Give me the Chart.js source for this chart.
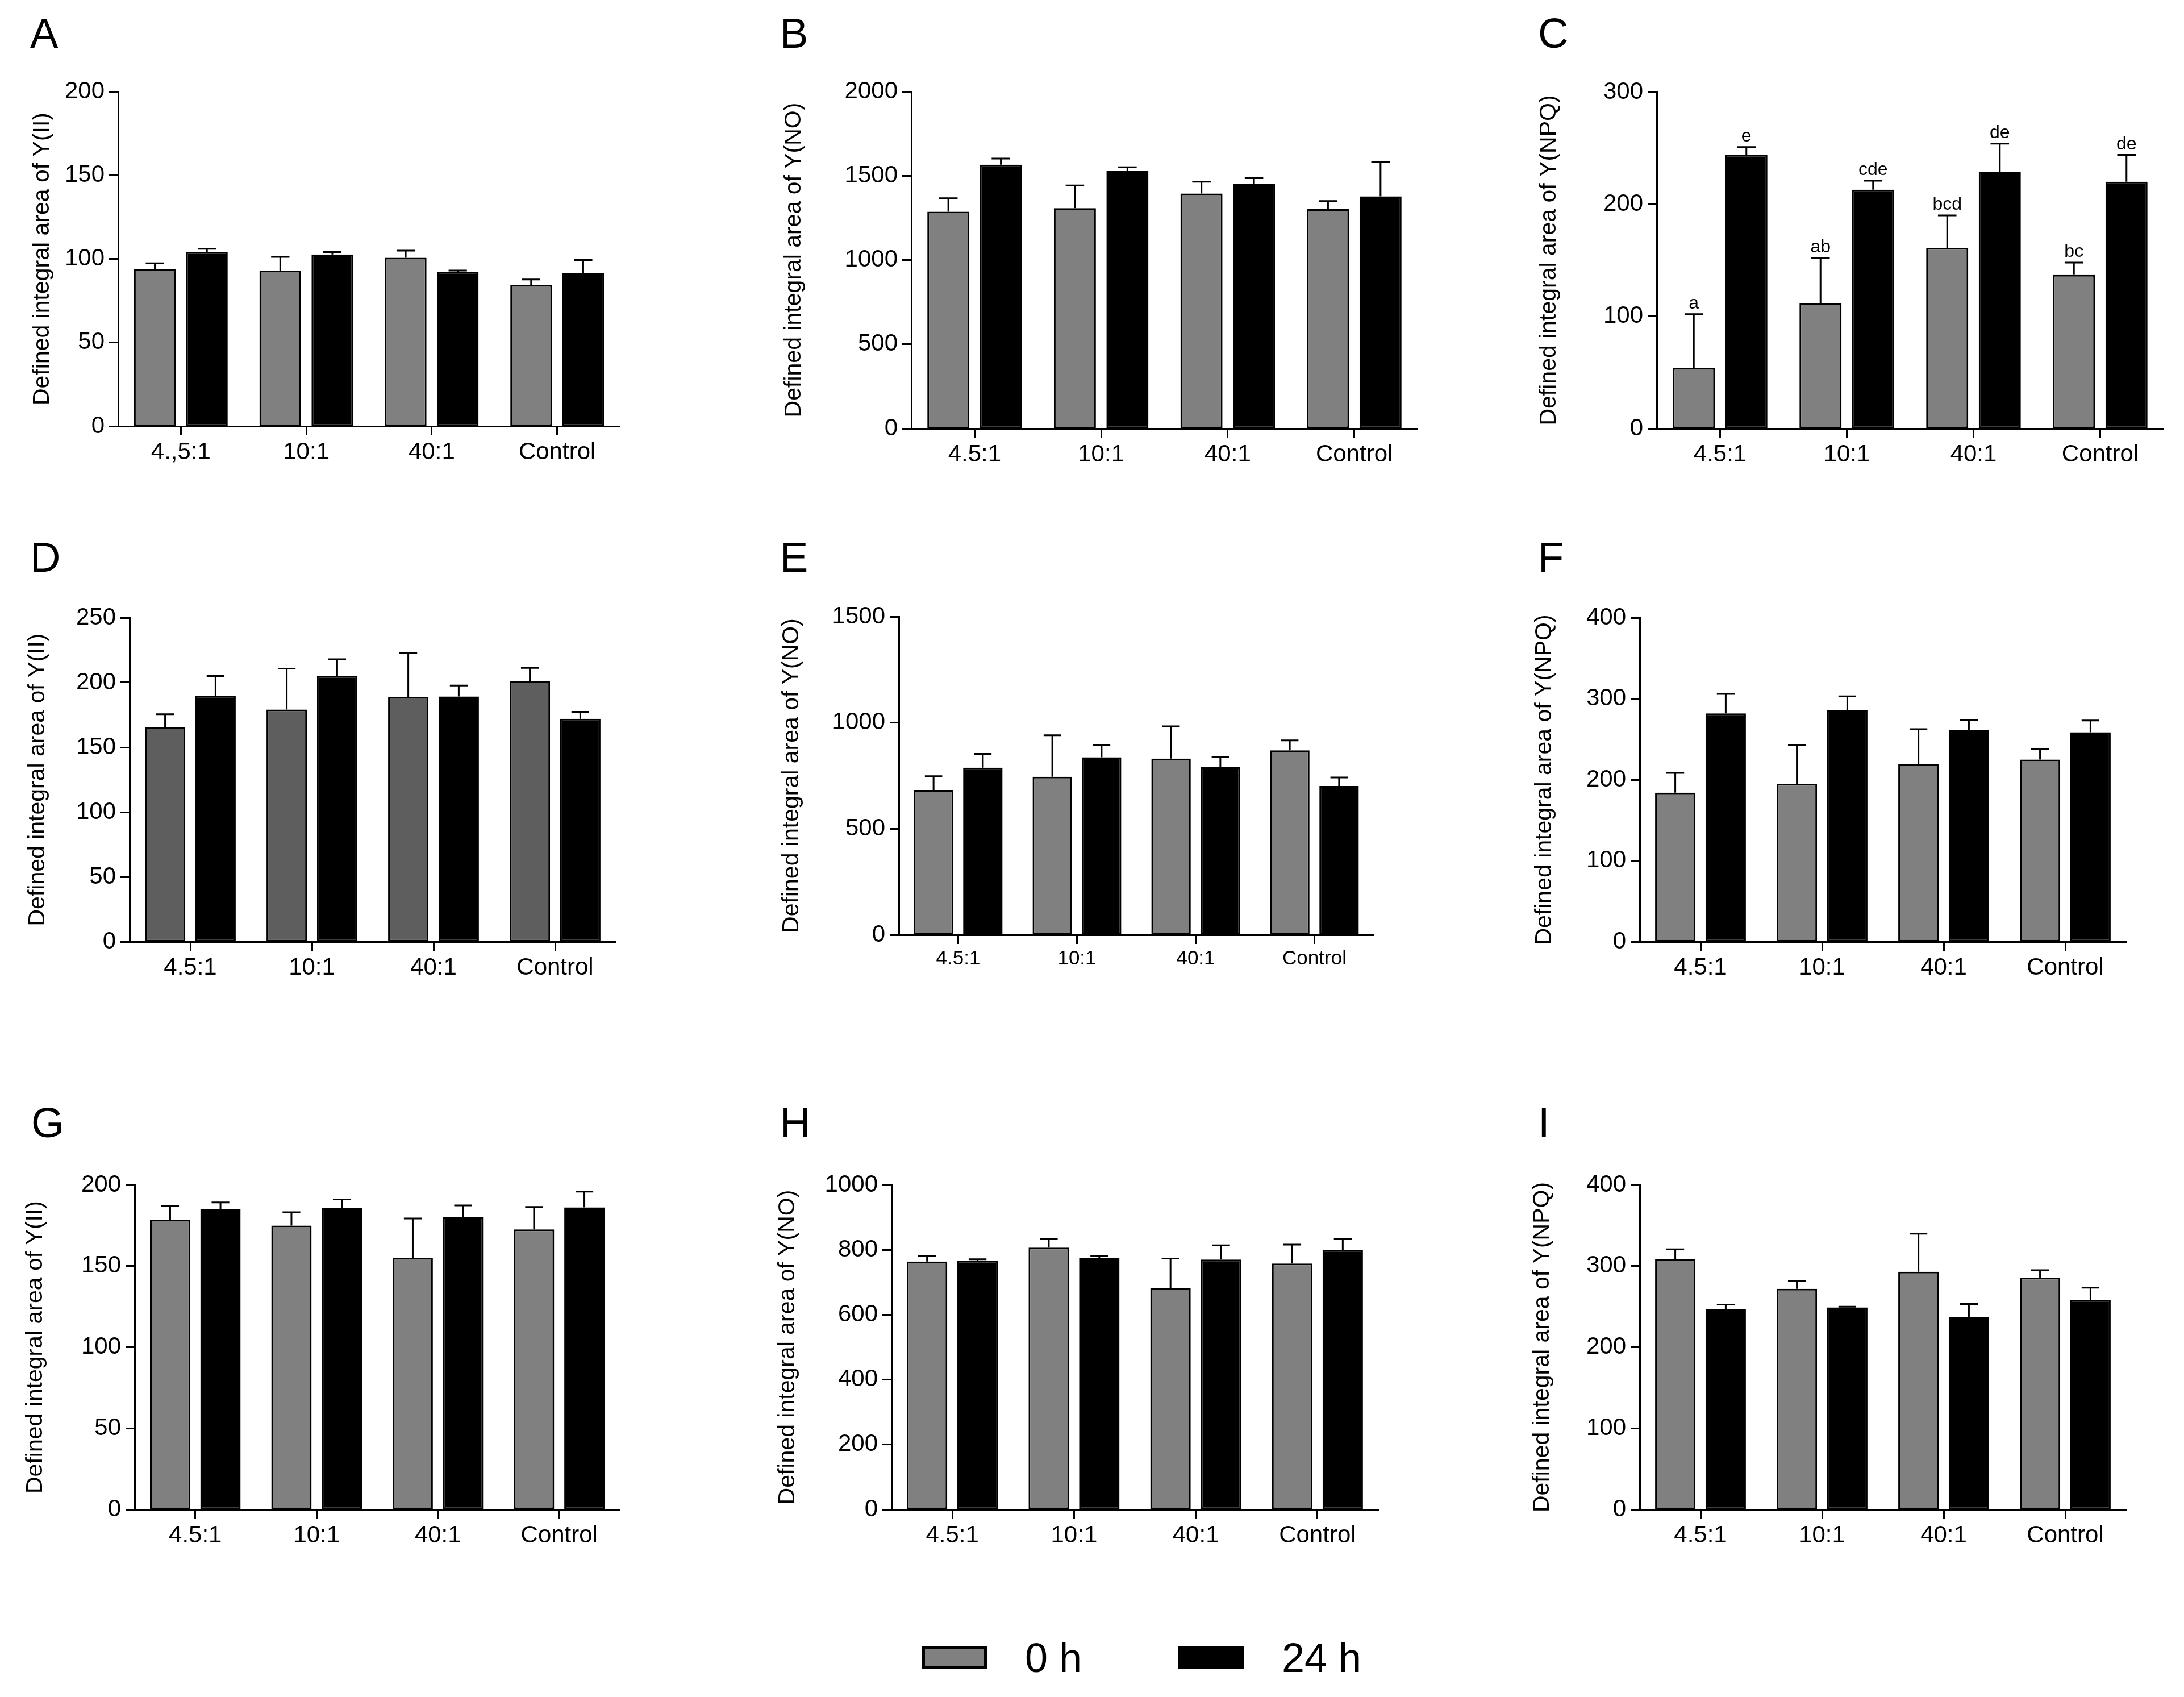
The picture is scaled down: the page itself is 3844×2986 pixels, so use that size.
<!DOCTYPE html>
<html>
<head>
<meta charset="utf-8">
<script src="https://cdn.jsdelivr.net/npm/chart.js@4.4.1/dist/chart.umd.min.js"></script>
<style>
  html, body { margin: 0; padding: 0; background: #fff; }
  #page { position: relative; width: 3844px; height: 2986px; overflow: hidden; font-family: "Liberation Sans", Arial, sans-serif; color: #000; }
  #page canvas { position: absolute; }
  .letter { position: absolute; font-size: 74px; line-height: 1; }
  .legbox { position: absolute; box-sizing: border-box; height: 39px; }
  .legtxt { position: absolute; font-size: 72px; line-height: 1; }
</style>
</head>
<body>
<div id="page">
  <div class="legbox" style="left:1623px; top:2897px; width:114px; background:#808080; border:5px solid #000;"></div>
  <div class="legtxt" style="left:1804px; top:2881px;">0 h</div>
  <div class="legbox" style="left:2074px; top:2897px; width:115px; background:#000;"></div>
  <div class="legtxt" style="left:2256px; top:2881px;">24 h</div>
</div>
<script>
// categories and series
const categoriesA = ['4.,5:1', '10:1', '40:1', 'Control'];
const categories = ['4.5:1', '10:1', '40:1', 'Control'];
const seriesNames = ['0 h', '24 h'];
const panelLetters = ['A', 'B', 'C', 'D', 'E', 'F', 'G', 'H', 'I'];
const yTitles = [
  'Defined integral area of Y(II)', 'Defined integral area of Y(NO)', 'Defined integral area of Y(NPQ)',
  'Defined integral area of Y(II)', 'Defined integral area of Y(NO)', 'Defined integral area of Y(NPQ)',
  'Defined integral area of Y(II)', 'Defined integral area of Y(NO)', 'Defined integral area of Y(NPQ)'
];
const yMaxes = [200, 2000, 300, 250, 1500, 400, 200, 1000, 400];
const ySteps = [50, 500, 100, 50, 500, 100, 50, 200, 100];

// A  Y(II)
const meanA0 = [94, 93, 100.7, 84.4];
const sdA0 = [3.4, 8.2, 4.2, 3.3];
const meanA24 = [104.1, 102.6, 92.3, 91.3];
const sdA24 = [1.9, 1.5, 0.7, 8];
// B  Y(NO)
const meanB0 = [1287, 1308, 1395, 1302];
const sdB0 = [80, 135, 70, 48];
const meanB24 = [1566, 1528, 1454, 1378];
const sdB24 = [36, 23, 32, 205];
// C  Y(NPQ)
const meanC0 = [54, 112, 161, 137];
const sdC0 = [48, 40, 29, 11];
const meanC24 = [244, 213, 229, 220];
const sdC24 = [7, 8, 25, 24];
const lettersC0 = ['a', 'ab', 'bcd', 'bc'];
const lettersC24 = ['e', 'cde', 'de', 'de'];
// D  Y(II)
const meanD0 = [165.6, 179.2, 189, 201];
const sdD0 = [10, 31.6, 34, 10.3];
const meanD24 = [189.8, 205, 189.3, 172];
const sdD24 = [15.2, 13, 8.4, 5.4];
// E  Y(NO)
const meanE0 = [683, 745, 831, 870];
const sdE0 = [65, 196, 152, 47];
const meanE24 = [788, 837, 790, 702];
const sdE24 = [65, 59, 48, 40];
// F  Y(NPQ)
const meanF0 = [184, 195, 219.5, 225];
const sdF0 = [24.5, 48, 43, 12.7];
const meanF24 = [282, 286, 261, 258.6];
const sdF24 = [24, 17, 12.6, 14.6];
// G  Y(II)
const meanG0 = [178.5, 175, 155.2, 172.6];
const sdG0 = [8.5, 8.2, 24.1, 13.8];
const meanG24 = [185, 186, 180, 186.2];
const sdG24 = [4.2, 5.1, 7.4, 9.7];
// H  Y(NO)
const meanH0 = [764, 807, 682, 758];
const sdH0 = [16, 27, 91, 58];
const meanH24 = [766, 774, 770, 799];
const sdH24 = [5, 7, 44, 35];
// I  Y(NPQ)
const meanI0 = [308.5, 272, 293, 285.6];
const sdI0 = [12.2, 9.3, 47, 9.4];
const meanI24 = [247, 249, 237.5, 258.4];
const sdI24 = [5.5, 1, 15.8, 15];

const means0 = [meanA0, meanB0, meanC0, meanD0, meanE0, meanF0, meanG0, meanH0, meanI0];
const sds0 = [sdA0, sdB0, sdC0, sdD0, sdE0, sdF0, sdG0, sdH0, sdI0];
const means24 = [meanA24, meanB24, meanC24, meanD24, meanE24, meanF24, meanG24, meanH24, meanI24];
const sds24 = [sdA24, sdB24, sdC24, sdD24, sdE24, sdF24, sdG24, sdH24, sdI24];

// where each plot sits on the page (axis left/right, top/bottom pixel, y-title centre, letter)
const boxes = [
  { L: 208, R: 1091, T: 161, B: 750, tx: 75, lx: 53, ly: 22 },
  { L: 1604, R: 2495, T: 161, B: 754, tx: 1398, lx: 1373, ly: 22 },
  { L: 2916, R: 3808, T: 162, B: 754, tx: 2727, lx: 2707, ly: 22 },
  { L: 228, R: 1084, T: 1087, B: 1657, tx: 67, lx: 53, ly: 944 },
  { L: 1582, R: 2418, T: 1085, B: 1645, tx: 1394, lx: 1373, ly: 944 },
  { L: 2886, R: 3742, T: 1087, B: 1657, tx: 2719, lx: 2707, ly: 944 },
  { L: 237, R: 1091, T: 2085, B: 2656, tx: 63, lx: 55, ly: 1939 },
  { L: 1569, R: 2426, T: 2085, B: 2656, tx: 1387, lx: 1373, ly: 1939 },
  { L: 2886, R: 3742, T: 2085, B: 2656, tx: 2715, lx: 2707, ly: 1939 }
];

const FONT = '"Liberation Sans", Arial, sans-serif';
Chart.defaults.font.family = FONT;
Chart.defaults.color = '#000';

// upper error bars + optional significance letters
const errorBars = {
  id: 'errorBars',
  afterDatasetsDraw(chart) {
    const ctx = chart.ctx;
    const yScale = chart.scales.y;
    ctx.save();
    ctx.strokeStyle = '#000';
    ctx.fillStyle = '#000';
    ctx.lineWidth = 3;
    ctx.font = '32px ' + FONT;
    ctx.textAlign = 'center';
    ctx.textBaseline = 'alphabetic';
    chart.data.datasets.forEach((ds, di) => {
      const meta = chart.getDatasetMeta(di);
      meta.data.forEach((bar, i) => {
        const top = yScale.getPixelForValue(ds.data[i] + ds.sd[i]);
        const half = bar.width * 0.22;
        ctx.beginPath();
        ctx.moveTo(bar.x, bar.y);
        ctx.lineTo(bar.x, top);
        ctx.moveTo(bar.x - half, top);
        ctx.lineTo(bar.x + half, top);
        ctx.stroke();
        if (ds.marks) ctx.fillText(ds.marks[i], bar.x, top - 10);
      });
    });
    ctx.restore();
  }
};

const page = document.getElementById('page');
const TITLE_SIZE = 41;
const X_AXIS_H = 80;
const PAD_TOP = 60;
const PAD_RIGHT = 40;

boxes.forEach((b, p) => {
  const letter = document.createElement('div');
  letter.className = 'letter';
  letter.style.left = b.lx + 'px';
  letter.style.top = b.ly + 'px';
  letter.textContent = panelLetters[p];
  page.appendChild(letter);

  const cx = Math.round(b.tx - TITLE_SIZE * 1.2 / 2);
  const cy = b.T - PAD_TOP;
  const cw = b.R - cx + PAD_RIGHT;
  const ch = b.B - cy + X_AXIS_H;
  const yAxisW = b.L - cx;

  const canvas = document.createElement('canvas');
  canvas.width = cw;
  canvas.height = ch;
  canvas.style.left = cx + 'px';
  canvas.style.top = cy + 'px';
  canvas.style.width = cw + 'px';
  canvas.style.height = ch + 'px';
  page.appendChild(canvas);

  const gray = p === 3 ? '#5e5e5e' : '#808080';
  const barStyle = { borderColor: '#000', borderWidth: 3, borderSkipped: false, categoryPercentage: 0.83, barPercentage: 0.8 };

  new Chart(canvas.getContext('2d'), {
    type: 'bar',
    data: {
      labels: p === 0 ? categoriesA : categories,
      datasets: [
        Object.assign({ label: seriesNames[0], data: means0[p], sd: sds0[p], backgroundColor: gray,
          marks: p === 2 ? lettersC0 : null }, barStyle),
        Object.assign({ label: seriesNames[1], data: means24[p], sd: sds24[p], backgroundColor: '#000',
          marks: p === 2 ? lettersC24 : null }, barStyle)
      ]
    },
    options: {
      responsive: false,
      animation: false,
      devicePixelRatio: 1,
      layout: { padding: { top: PAD_TOP, right: PAD_RIGHT, bottom: 0, left: 0 } },
      plugins: { legend: { display: false }, tooltip: { enabled: false } },
      scales: {
        x: {
          offset: true,
          grid: { display: true, drawOnChartArea: false, drawTicks: true, tickLength: 16, tickWidth: 3, tickColor: '#000', offset: false },
          border: { display: true, color: '#000', width: 3 },
          ticks: { color: '#000', font: { size: p === 4 ? 35 : 42 }, padding: 5, maxRotation: 0, autoSkip: false },
          afterFit: s => { s.height = X_AXIS_H; }
        },
        y: {
          min: 0,
          max: yMaxes[p],
          ticks: { stepSize: ySteps[p], color: '#000', font: { size: 42 }, padding: 8, callback: v => String(v) },
          grid: { display: true, drawOnChartArea: false, drawTicks: true, tickLength: 16, tickWidth: 3, tickColor: '#000' },
          border: { display: true, color: '#000', width: 3 },
          title: { display: true, text: yTitles[p], color: '#000', font: { size: TITLE_SIZE }, padding: 0 },
          afterFit: s => { s.width = yAxisW; }
        }
      }
    },
    plugins: [errorBars]
  });
});
</script>
</body>
</html>
